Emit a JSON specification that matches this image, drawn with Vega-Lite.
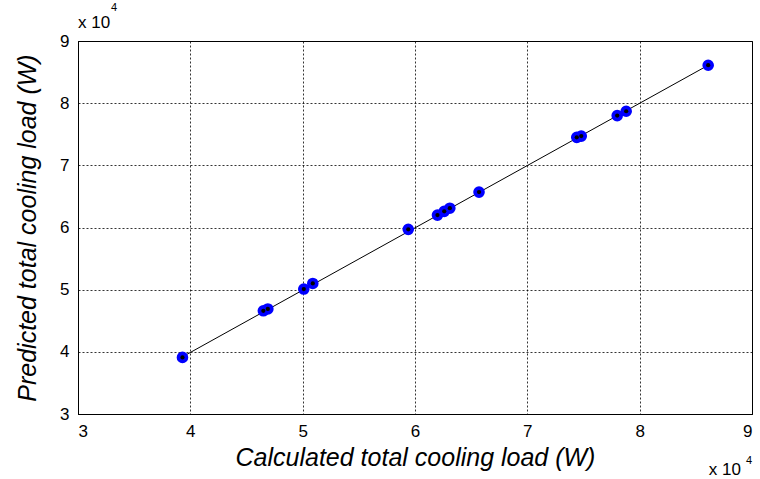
{
  "$schema": "https://vega.github.io/schema/vega-lite/v6.json",
  "width": 674,
  "height": 373,
  "autosize": {"type": "none"},
  "padding": {"left": 78, "top": 41, "right": 8, "bottom": 65},
  "background": "white",
  "datasets": {
    "points": [
      {"calculated": 39300, "predicted": 39100},
      {"calculated": 46500, "predicted": 46600},
      {"calculated": 46900, "predicted": 46900},
      {"calculated": 50100, "predicted": 50100},
      {"calculated": 50900, "predicted": 51000},
      {"calculated": 59400, "predicted": 59700},
      {"calculated": 62000, "predicted": 62000},
      {"calculated": 62600, "predicted": 62600},
      {"calculated": 63100, "predicted": 63100},
      {"calculated": 65700, "predicted": 65700},
      {"calculated": 74400, "predicted": 74500},
      {"calculated": 74800, "predicted": 74700},
      {"calculated": 78000, "predicted": 78000},
      {"calculated": 78800, "predicted": 78700},
      {"calculated": 86100, "predicted": 86100}
    ],
    "fit": [
      {"calculated": 39300, "predicted": 39200},
      {"calculated": 86100, "predicted": 86100}
    ],
    "one": [{}]
  },
  "layer": [
    {
      "data": {"name": "fit"},
      "mark": {"type": "line", "color": "black", "strokeWidth": 1},
      "encoding": {
        "x": {
          "field": "calculated",
          "type": "quantitative",
          "scale": {"domain": [30000, 90000], "nice": false, "zero": false},
          "axis": {
            "title": "Calculated total cooling load (W)",
            "values": [30000, 40000, 50000, 60000, 70000, 80000, 90000],
            "labelExpr": "format(datum.value / 10000, 'd')"
          }
        },
        "y": {
          "field": "predicted",
          "type": "quantitative",
          "scale": {"domain": [30000, 90000], "nice": false, "zero": false},
          "axis": {
            "title": "Predicted total cooling load (W)",
            "values": [30000, 40000, 50000, 60000, 70000, 80000, 90000],
            "labelExpr": "format(datum.value / 10000, 'd')"
          }
        }
      }
    },
    {
      "data": {"name": "points"},
      "mark": {"type": "point", "shape": "circle", "filled": true, "color": "#0000FF", "opacity": 1, "size": 135},
      "encoding": {
        "x": {"field": "calculated", "type": "quantitative"},
        "y": {"field": "predicted", "type": "quantitative"}
      }
    },
    {
      "data": {"name": "points"},
      "mark": {"type": "point", "shape": "circle", "filled": true, "color": "black", "opacity": 1, "size": 18},
      "encoding": {
        "x": {"field": "calculated", "type": "quantitative"},
        "y": {"field": "predicted", "type": "quantitative"}
      }
    },
    {
      "data": {"name": "one"},
      "mark": {"type": "text", "text": "x 10", "align": "left", "baseline": "alphabetic", "dy": -13, "fontSize": 17, "font": "Liberation Sans", "color": "black"},
      "encoding": {
        "x": {"datum": 30000, "type": "quantitative"},
        "y": {"datum": 90000, "type": "quantitative"}
      }
    },
    {
      "data": {"name": "one"},
      "mark": {"type": "text", "text": "4", "align": "left", "baseline": "alphabetic", "dx": 33, "dy": -30, "fontSize": 11, "font": "Liberation Sans", "color": "black"},
      "encoding": {
        "x": {"datum": 30000, "type": "quantitative"},
        "y": {"datum": 90000, "type": "quantitative"}
      }
    },
    {
      "data": {"name": "one"},
      "mark": {"type": "text", "text": "x 10", "align": "right", "baseline": "alphabetic", "dx": -11, "dy": 61, "fontSize": 17, "font": "Liberation Sans", "color": "black"},
      "encoding": {
        "x": {"datum": 90000, "type": "quantitative"},
        "y": {"datum": 30000, "type": "quantitative"}
      }
    },
    {
      "data": {"name": "one"},
      "mark": {"type": "text", "text": "4", "align": "right", "baseline": "alphabetic", "dx": 0, "dy": 50, "fontSize": 11, "font": "Liberation Sans", "color": "black"},
      "encoding": {
        "x": {"datum": 90000, "type": "quantitative"},
        "y": {"datum": 30000, "type": "quantitative"}
      }
    }
  ],
  "config": {
    "font": "Liberation Sans",
    "view": {"stroke": "black", "strokeWidth": 1},
    "axis": {
      "domainColor": "black",
      "domainWidth": 1,
      "grid": true,
      "gridColor": "black",
      "gridOpacity": 1,
      "gridWidth": 0.8,
      "gridDash": [2, 2],
      "ticks": false,
      "labelFont": "Liberation Sans",
      "labelFontSize": 17,
      "labelColor": "black",
      "labelPadding": 9,
      "titleFont": "Liberation Sans",
      "titleFontSize": 25,
      "titleFontStyle": "italic",
      "titleFontWeight": "normal",
      "titleColor": "black"
    },
    "axisX": {"titlePadding": 6},
    "axisY": {"titlePadding": 19}
  }
}
